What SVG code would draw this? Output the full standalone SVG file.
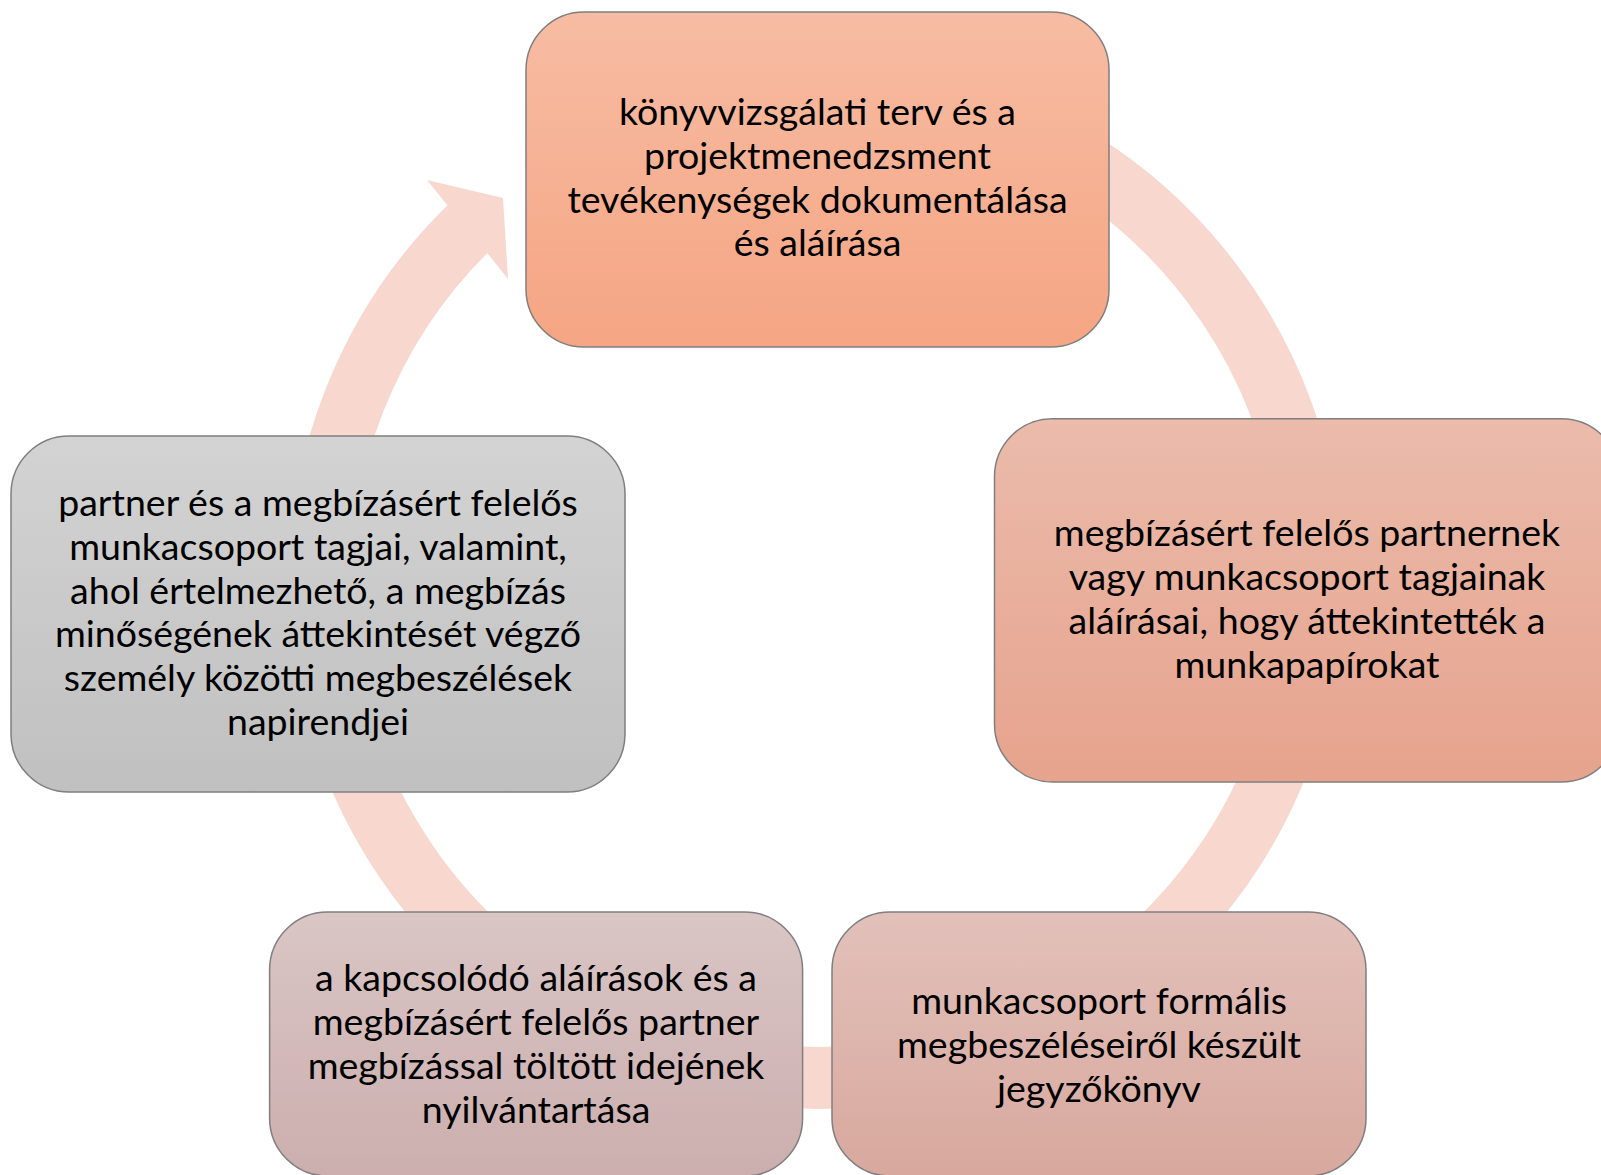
<svg xmlns="http://www.w3.org/2000/svg" width="1601" height="1175" viewBox="0 0 1601 1175">
<defs>
<linearGradient id="g1" x1="0" y1="0" x2="0" y2="1"><stop offset="0" stop-color="#F7BCA3"/><stop offset="1" stop-color="#F5A583"/></linearGradient>
<linearGradient id="g2" x1="0" y1="0" x2="0" y2="1"><stop offset="0" stop-color="#EBBBAB"/><stop offset="1" stop-color="#E6A38D"/></linearGradient>
<linearGradient id="g3" x1="0" y1="0" x2="0" y2="1"><stop offset="0" stop-color="#D3D3D3"/><stop offset="1" stop-color="#C0C0C0"/></linearGradient>
<linearGradient id="g4" x1="0" y1="0" x2="0" y2="1"><stop offset="0" stop-color="#D9C6C5"/><stop offset="1" stop-color="#CCAEAE"/></linearGradient>
<linearGradient id="g5" x1="0" y1="0" x2="0" y2="1"><stop offset="0" stop-color="#E2C1BA"/><stop offset="1" stop-color="#D8A89E"/></linearGradient>
</defs>
<style>
.box{stroke:#7F7F7F;stroke-width:1.5}
.t{font-family:Lato,"Open Sans","Liberation Sans",sans-serif;font-size:37.5px;fill:#000;text-anchor:middle}
.ring{fill:none;stroke:#F8D8CE;stroke-width:62}
.head{fill:#F8D8CE}
</style>
<g id="connectors">
<path class="ring" d="M474.6,222.2 A496,496 0 1 0 816,86"/>
<polygon class="head" points="427,180 503,198 508,279 488,254 448,206"/>
</g>
<g id="node1">
<rect class="box" x="526" y="12" width="583" height="335" rx="58" fill="url(#g1)"/>
<text class="t"><tspan x="817.5" y="125">könyvvizsgálati terv és a</tspan><tspan x="817.5" y="169">projektmenedzsment</tspan><tspan x="817.5" y="213">tevékenységek dokumentálása</tspan><tspan x="817.5" y="256">és aláírása</tspan></text>
</g>
<g id="node2">
<rect class="box" x="994.5" y="418.7" width="625" height="363.3" rx="58" fill="url(#g2)"/>
<text class="t"><tspan x="1307" y="546">megbízásért felelős partnernek</tspan><tspan x="1307" y="590">vagy munkacsoport tagjainak</tspan><tspan x="1307" y="634">aláírásai, hogy áttekintették a</tspan><tspan x="1307" y="678">munkapapírokat</tspan></text>
</g>
<g id="node3">
<rect class="box" x="832" y="912" width="534" height="264" rx="58" fill="url(#g5)"/>
<text class="t"><tspan x="1099" y="1014">munkacsoport formális</tspan><tspan x="1099" y="1058">megbeszéléseiről készült</tspan><tspan x="1099" y="1102">jegyzőkönyv</tspan></text>
</g>
<g id="node4">
<rect class="box" x="269.6" y="912" width="533" height="264" rx="58" fill="url(#g4)"/>
<text class="t"><tspan x="536" y="991">a kapcsolódó aláírások és a</tspan><tspan x="536" y="1035">megbízásért felelős partner</tspan><tspan x="536" y="1079">megbízással töltött idejének</tspan><tspan x="536" y="1123">nyilvántartása</tspan></text>
</g>
<g id="node5">
<rect class="box" x="11" y="436" width="614" height="356" rx="58" fill="url(#g3)"/>
<text class="t"><tspan x="318" y="516">partner és a megbízásért felelős</tspan><tspan x="318" y="560">munkacsoport tagjai, valamint,</tspan><tspan x="318" y="604">ahol értelmezhető, a megbízás</tspan><tspan x="318" y="647">minőségének áttekintését végző</tspan><tspan x="318" y="691">személy közötti megbeszélések</tspan><tspan x="318" y="735">napirendjei</tspan></text>
</g>
</svg>
